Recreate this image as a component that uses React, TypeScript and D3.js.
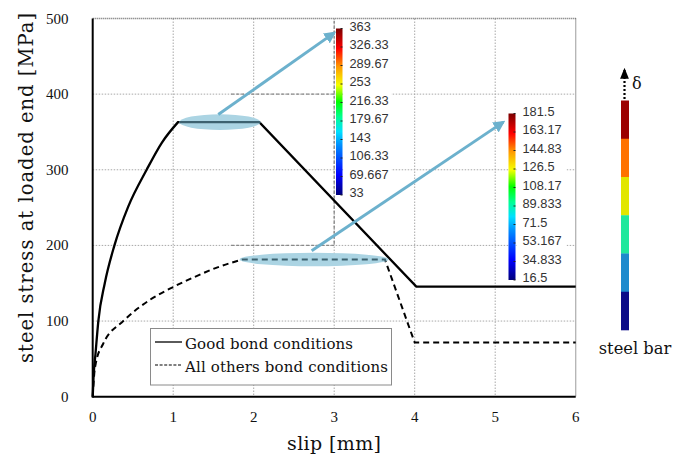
import React from "react";
import * as d3 from "d3";

// ---------- data ----------
const goodRiseX = [0, 0.01, 0.035, 0.07, 0.15, 0.27, 0.44, 0.67, 0.86, 1.06];
const goodRiseY = [0, 25, 57, 100, 150, 200, 251, 300, 336, 363];
const goodTailX = [1.06, 2.07, 4.02, 6];
const goodTailY = [363, 363, 145.5, 145.5];

const otherRiseX = [0, 0.02, 0.04, 0.13, 0.38, 0.71, 1.0, 1.27, 1.55, 1.86];
const otherRiseY = [0, 31, 45, 70, 100, 128, 145, 158.5, 171, 181.5];
const otherTailX = [1.86, 3.63, 4.0, 6];
const otherTailY = [181.5, 181.5, 71.5, 71.5];

const xTicks = [0, 1, 2, 3, 4, 5, 6];
const yTicks = [0, 100, 200, 300, 400, 500];

const legendLabels = ["Good bond conditions", "All others bond conditions"];

// annotations (data units)
const ellipseCX = [1.58, 2.75];
const ellipseCY = [363, 181.5];
const ellipseRX = [0.505, 0.925];
const ellipseRY = [10.3, 8.9];
const arrowFromX = [1.56, 2.72];
const arrowFromY = [373, 193];
const arrowToX = [3.0, 5.1];
const arrowToY = [481, 363];

const cbar1Labels = ["363", "326.33", "289.67", "253", "216.33", "179.67", "143", "106.33", "69.667", "33"];
const cbar2Labels = ["181.5", "163.17", "144.83", "126.5", "108.17", "89.833", "71.5", "53.167", "34.833", "16.5"];

const steelBarColors = ["#9c0000", "#ff7200", "#e2e600", "#20e89c", "#1e8acd", "#0b0b88"];

const jetStops: [number, string][] = [
  [0, "#00007a"],
  [0.12, "#0000ff"],
  [0.3, "#0090ff"],
  [0.38, "#00e0ff"],
  [0.47, "#00ff90"],
  [0.56, "#00ff00"],
  [0.66, "#f4ff00"],
  [0.77, "#ff9a00"],
  [0.88, "#ff0000"],
  [1, "#7a0000"],
];

// ---------- layout ----------
const W = 676;
const H = 460;
const x = d3.scaleLinear().domain([0, 6]).range([92.7, 575.7]);
const y = d3.scaleLinear().domain([0, 500]).range([396.7, 18.5]);

const zip = (xs: number[], ys: number[]) => xs.map((v, i) => [v, ys[i]] as [number, number]);

const riseLine = d3
  .line<[number, number]>()
  .x((d) => x(d[0]))
  .y((d) => y(d[1]))
  .curve(d3.curveMonotoneX);
const straightLine = d3
  .line<[number, number]>()
  .x((d) => x(d[0]))
  .y((d) => y(d[1]));

const goodPath = riseLine(zip(goodRiseX, goodRiseY))! + straightLine(zip(goodTailX, goodTailY))!.replace(/^M/, "L");
const otherPath = riseLine(zip(otherRiseX, otherRiseY))! + straightLine(zip(otherTailX, otherTailY))!.replace(/^M/, "L");

const serif = "'DejaVu Serif', serif";
const tickFont = "'Liberation Serif', serif";
const sans = "'Liberation Sans', Arial, sans-serif";
const arrowColor = "#6cb1cd";

function ColorBar({ x0, y0, w, h, labels, id }: { x0: number; y0: number; w: number; h: number; labels: string[]; id: string }) {
  const step = h / (labels.length - 1);
  return (
    <g>
      <rect x={x0} y={y0} width={w} height={h} fill={`url(#${id})`} />
      {labels.map((l, i) => (
        <g key={l}>
          <line x1={x0 + w - 2} x2={x0 + w} y1={y0 + i * step} y2={y0 + i * step} stroke="#222" strokeWidth={1} />
          <text x={x0 + w + 7} y={y0 + i * step - 1} dominantBaseline="middle" fontFamily={sans} fontSize={12.8} fill="#333">
            {l}
          </text>
        </g>
      ))}
    </g>
  );
}

export default function App() {
  const cb1 = { x0: 336, y0: 28.5, w: 6.5, h: 166.5 };
  const cb2 = { x0: 508.5, y0: 113.5, w: 7, h: 166.5 };
  const sbX = 621;
  const sbTop = 100.5;
  const sbH = 229.5 / steelBarColors.length;
  return (
    <svg width={W} height={H} style={{ position: "absolute", left: 0, top: 0, background: "#fff" }}>
      <defs>
        <linearGradient id="jet" x1="0" y1="1" x2="0" y2="0">
          {jetStops.map(([o, c]) => (
            <stop key={o} offset={o} stopColor={c} />
          ))}
        </linearGradient>
        <marker id="ah" viewBox="0 0 10 10" refX="8" refY="5" markerWidth="4" markerHeight="4" orient="auto">
          <path d="M0,0 L10,5 L0,10 z" fill={arrowColor} />
        </marker>
        <marker id="ahBlack" viewBox="0 0 10 10" refX="8" refY="5" markerWidth="5" markerHeight="5" orient="auto">
          <path d="M0,1 L10,5 L0,9 z" fill="#000" />
        </marker>
        {ellipseCX.map((cx, i) => (
          <clipPath id={`ec${i}`} key={i}>
            <ellipse cx={x(cx)} cy={y(ellipseCY[i])} rx={x(ellipseRX[i]) - x(0)} ry={y(0) - y(ellipseRY[i])} />
          </clipPath>
        ))}
      </defs>

      {/* grid */}
      {xTicks.slice(1, -1).map((t) => (
        <line key={"gx" + t} x1={x(t)} x2={x(t)} y1={y(500)} y2={y(0)} stroke="#a8a8a8" strokeWidth={1} strokeDasharray="1.5,1.5" />
      ))}
      {yTicks.slice(1, -1).map((t) => (
        <line key={"gy" + t} x1={x(0)} x2={x(6)} y1={y(t)} y2={y(t)} stroke="#a8a8a8" strokeWidth={1} strokeDasharray="1.5,1.5" />
      ))}
      {/* darker grid of the pasted contour image */}
      <line x1={x(1.72)} x2={x(3)} y1={y(400)} y2={y(400)} stroke="#8a8a8a" strokeWidth={1.4} strokeDasharray="3,2" />
      <line x1={x(1.72)} x2={x(3)} y1={y(200)} y2={y(200)} stroke="#8a8a8a" strokeWidth={1.4} strokeDasharray="3,2" />
      <line x1={x(3)} x2={x(3)} y1={y(497)} y2={y(200)} stroke="#8a8a8a" strokeWidth={1.4} strokeDasharray="3,2" />

      {/* white backgrounds of colour-bar label areas */}
      <rect x={cb1.x0 + cb1.w + 1} y={cb1.y0 - 10} width={48} height={cb1.h + 18} fill="#fff" />
      <rect x={cb2.x0 + cb2.w + 1} y={cb2.y0 - 10} width={50} height={cb2.h + 18} fill="#fff" />

      {/* frame */}
      <line x1={x(0)} x2={x(6)} y1={y(500)} y2={y(500)} stroke="#666" strokeWidth={1.3} strokeDasharray="1,1" />
      <line x1={x(6)} x2={x(6)} y1={y(500)} y2={y(0)} stroke="#666" strokeWidth={1.3} strokeDasharray="1,1" />
      <line x1={x(0)} x2={x(6)} y1={y(0)} y2={y(0)} stroke="#000" strokeWidth={2} />
      <line x1={x(0)} x2={x(0)} y1={y(500)} y2={y(0) + 1} stroke="#000" strokeWidth={2} />

      {/* ticks */}
      {xTicks.map((t) => (
        <text key={"tx" + t} x={x(t)} y={421.5} textAnchor="middle" fontFamily={tickFont} fontSize={15} fill="#111">
          {t}
        </text>
      ))}
      {yTicks.map((t) => (
        <text key={"ty" + t} x={68.5} y={y(t) + 5} textAnchor="end" fontFamily={tickFont} fontSize={15} fill="#111">
          {t}
        </text>
      ))}

      {/* axis titles */}
      <text x={334} y={450} textAnchor="middle" fontFamily={serif} fontSize={19} textLength={94} fill="#111">
        slip [mm]
      </text>
      <text
        transform="translate(33,188) rotate(-90)"
        textAnchor="middle"
        fontFamily={serif}
        fontSize={19.5}
        textLength={350}
        fill="#111"
      >
        steel stress at loaded end [MPa]
      </text>

      {/* colour bars */}
      <ColorBar {...cb1} labels={cbar1Labels} id="jet" />
      <ColorBar {...cb2} labels={cbar2Labels} id="jet" />

      {/* series */}
      <path d={goodPath} fill="none" stroke="#000" strokeWidth={2.3} />
      <path d={otherPath} fill="none" stroke="#000" strokeWidth={2} strokeDasharray="6,4" />

      {/* ellipses highlight */}
      {ellipseCX.map((cx, i) => (
        <ellipse
          key={"el" + i}
          cx={x(cx)}
          cy={y(ellipseCY[i])}
          rx={x(ellipseRX[i]) - x(0)}
          ry={y(0) - y(ellipseRY[i])}
          fill="#abd4e3"
        />
      ))}
      <path d={goodPath} fill="none" stroke="#3d6270" strokeWidth={2.3} clipPath="url(#ec0)" />
      <path d={otherPath} fill="none" stroke="#3d6270" strokeWidth={2} strokeDasharray="6,4" clipPath="url(#ec1)" />

      {/* arrows */}
      {arrowFromX.map((fx, i) => (
        <line
          key={"ar" + i}
          x1={x(fx)}
          y1={y(arrowFromY[i])}
          x2={x(arrowToX[i])}
          y2={y(arrowToY[i])}
          stroke={arrowColor}
          strokeWidth={3}
          markerEnd="url(#ah)"
        />
      ))}

      {/* legend */}
      <rect x={150.5} y={328.5} width={241} height={56.5} fill="#fff" stroke="#8a8a8a" strokeWidth={1} />
      <line x1={155} x2={182} y1={342} y2={342} stroke="#000" strokeWidth={1.3} />
      <line x1={155} x2={182} y1={365} y2={365} stroke="#000" strokeWidth={1.2} strokeDasharray="3,1.6" />
      <text x={185} y={349} fontFamily={serif} fontSize={15} textLength={168} fill="#111">
        {legendLabels[0]}
      </text>
      <text x={185} y={372} fontFamily={serif} fontSize={15} textLength={203} fill="#111">
        {legendLabels[1]}
      </text>

      {/* steel bar */}
      {steelBarColors.map((c, i) => (
        <rect key={c} x={sbX} y={sbTop + i * sbH} width={8} height={sbH + 0.3} fill={c} />
      ))}
      <line x1={624.5} x2={624.5} y1={99} y2={70} stroke="#000" strokeWidth={2.2} strokeDasharray="2,2" markerEnd="url(#ahBlack)" />
      <text x={632} y={89} fontFamily={serif} fontSize={16} fill="#111">
        δ
      </text>
      <text x={635} y={354} textAnchor="middle" fontFamily={serif} fontSize={16.3} fill="#111">
        steel bar
      </text>
    </svg>
  );
}
